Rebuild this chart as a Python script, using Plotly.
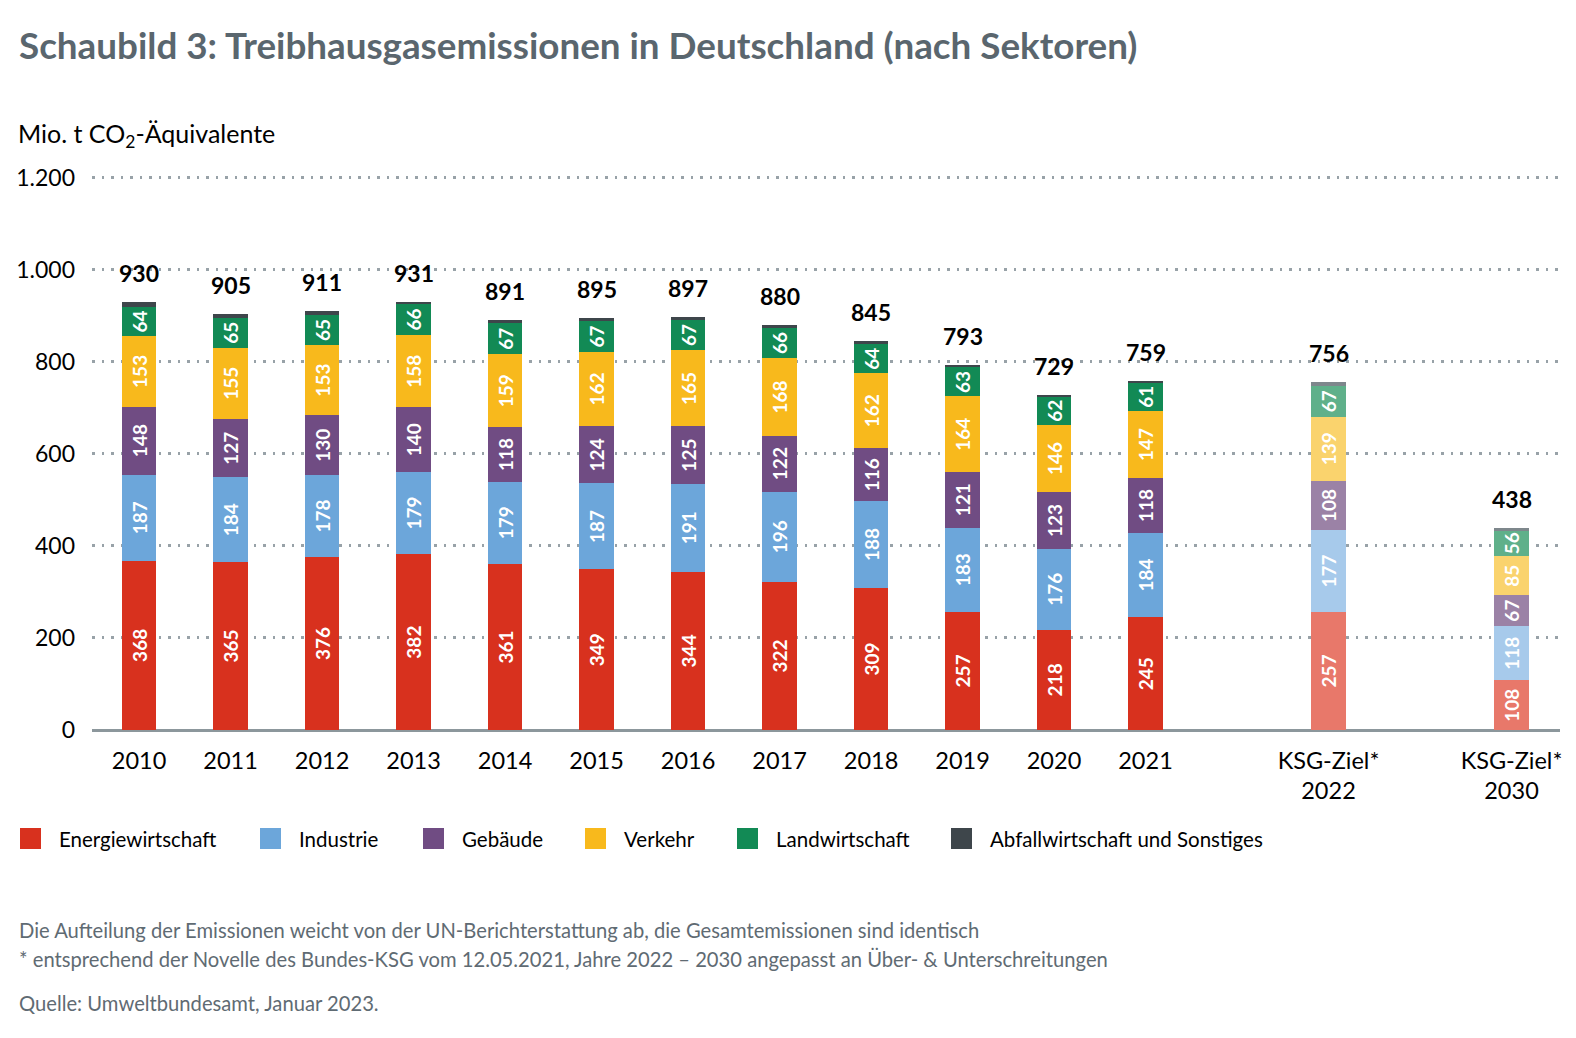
import plotly.graph_objects as go

# Kategorien (Jahre und KSG-Ziele)
categories = ["2010", "2011", "2012", "2013", "2014", "2015", "2016", "2017",
              "2018", "2019", "2020", "2021", "KSG-Ziel*<br>2022", "KSG-Ziel*<br>2030"]

# Emissionen nach Sektoren, Mio. t CO2-Äquivalente
energie = [368, 365, 376, 382, 361, 349, 344, 322, 309, 257, 218, 245, 257, 108]
industrie = [187, 184, 178, 179, 179, 187, 191, 196, 188, 183, 176, 184, 177, 118]
gebaeude = [148, 127, 130, 140, 118, 124, 125, 122, 116, 121, 123, 118, 108, 67]
verkehr = [153, 155, 153, 158, 159, 162, 165, 168, 162, 164, 146, 147, 139, 85]
landwirtschaft = [64, 65, 65, 66, 67, 67, 67, 66, 64, 63, 62, 61, 67, 56]
abfall = [10, 9, 9, 6, 7, 6, 5, 6, 6, 5, 4, 4, 8, 4]
totals = [930, 905, 911, 931, 891, 895, 897, 880, 845, 793, 729, 759, 756, 438]

y_ticks = [0, 200, 400, 600, 800, 1000, 1200]
y_ticklabels = ["0", "200", "400", "600", "800", "1.000", "1.200"]

# x-Positionen: Lücken vor den KSG-Zielen
pos = list(range(12)) + [13, 15]

FONT = "Lato"
OFF = 8  # Rand der HTML-Seite
W, H = 1576 - 2 * OFF, 1038 - 2 * OFF
ML, MR, MT, MB = 84, 8, 163, 300


def px2x(px):
    return (px - OFF - ML) / (W - ML - MR)


def px2y(py):
    return (H - MB - (py - OFF)) / (H - MT - MB)


sectors = [
    ("Energiewirtschaft", energie, "#D8311E", "#E8786A"),
    ("Industrie", industrie, "#6CA6DA", "#A7CAEB"),
    ("Gebäude", gebaeude, "#704C83", "#9B82A6"),
    ("Verkehr", verkehr, "#F8B91C", "#FAD36D"),
    ("Landwirtschaft", landwirtschaft, "#128A55", "#5FB08A"),
    ("Abfallwirtschaft und Sonstiges", abfall, "#3E464B", "#7E878C"),
]

fig = go.Figure()

for name, vals, col, col_light in sectors:
    colors = [col] * 12 + [col_light] * 2
    bar = dict(
        x=pos, y=vals, name=name,
        marker=dict(color=colors, line=dict(width=0)),
        width=0.38, hoverinfo="skip", showlegend=False,
    )
    if min(vals) >= 20:
        bar.update(
            text=[str(v) for v in vals],
            textposition="inside",
            insidetextanchor="middle",
            textangle=-90,
            constraintext="none",
            textfont=dict(family=FONT, size=19, color="white", weight="bold"),
        )
    fig.add_trace(go.Bar(**bar))

# Summen über den Balken
for p, t in zip(pos, totals):
    fig.add_annotation(x=p, y=t, xref="x", yref="y", text=str(t), showarrow=False,
                       yanchor="bottom", yshift=13,
                       font=dict(family=FONT, size=23, color="black", weight="bold"))

fig.update_layout(
    barmode="stack",
    width=W, height=H,
    margin=dict(l=ML, r=MR, t=MT, b=MB),
    paper_bgcolor="white", plot_bgcolor="white",
    font=dict(family=FONT, color="black"),
    showlegend=False,
    xaxis=dict(
        tickvals=pos, ticktext=categories, range=[-0.514, 15.53],
        showgrid=False, zeroline=False, showline=False, automargin=False,
        ticklabelstandoff=14,
        tickfont=dict(family=FONT, size=23.5, color="black"),
    ),
    yaxis=dict(
        range=[0, 1215], tickvals=y_ticks, ticktext=y_ticklabels,
        showgrid=True, gridcolor="#98A2A8", gridwidth=2.5, griddash="2.5px,7px",
        zeroline=True, zerolinecolor="#8C979C", zerolinewidth=3,
        showline=False, ticklabelstandoff=16, automargin=False,
        tickfont=dict(family=FONT, size=23, color="black"),
    ),
)

# Legende von Hand: Quadrate und Beschriftungen
legend_px = [20, 260, 423, 585, 737, 951]
for (name, vals, col, col_light), lx in zip(sectors, legend_px):
    fig.add_shape(type="rect", xref="paper", yref="paper",
                  x0=px2x(lx), x1=px2x(lx + 21), y0=px2y(849), y1=px2y(828),
                  fillcolor=col, line=dict(width=0))
    fig.add_annotation(xref="paper", yref="paper", x=px2x(lx + 37), y=px2y(839),
                       xanchor="left", yanchor="middle", showarrow=False, text=name,
                       font=dict(family=FONT, size=20.5, color="black"))

ann = [
    ("<b>Schaubild 3: Treibhausgasemissionen in Deutschland (nach Sektoren)</b>",
     17, 45, 36.8, "#5A666E"),
    ("Mio. t CO<sub>2</sub>-Äquivalente", 16, 135, 25, "black"),
    ("Die Aufteilung der Emissionen weicht von der UN-Berichterstattung ab, die Gesamtemissionen sind identisch",
     17, 930, 20.2, "#5F6B73"),
    ("* entsprechend der Novelle des Bundes-KSG vom 12.05.2021, Jahre 2022 – 2030 angepasst an Über- & Unterschreitungen",
     17, 959, 20.2, "#5F6B73"),
    ("Quelle: Umweltbundesamt, Januar 2023.", 17, 1003, 20.2, "#5F6B73"),
]
for text, x, y, size, color in ann:
    fig.add_annotation(xref="paper", yref="paper", xanchor="left", yanchor="middle",
                       showarrow=False, text=text, x=px2x(x), y=px2y(y),
                       font=dict(family=FONT, size=size, color=color))

fig.write_html("out.html")
